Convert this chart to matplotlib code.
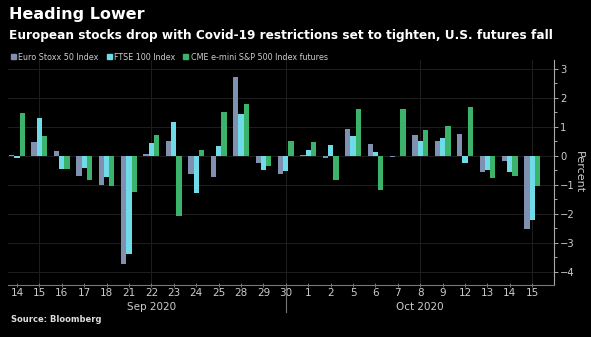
import matplotlib.pyplot as plt
from matplotlib.patches import Patch
from matplotlib.ticker import MultipleLocator

# trading days, Sep 14 - Oct 15 2020
days = ['14', '15', '16', '17', '18', '21', '22', '23', '24', '25', '28', '29', '30',
        '1', '2', '5', '6', '7', '8', '9', '12', '13', '14', '15']
euro_stoxx = [0.03, 0.47, 0.18, -0.68, -1.0, -3.74, 0.08, 0.52, -0.62, -0.71, 2.72, -0.25,
              -0.62, 0.02, -0.08, 0.93, 0.4, -0.03, 0.72, 0.53, 0.77, -0.57, -0.17, -2.52]
ftse_100 = [-0.08, 1.32, -0.45, -0.43, -0.71, -3.39, 0.44, 1.18, -1.29, 0.34, 1.44, -0.5,
            -0.53, 0.21, 0.38, 0.7, 0.13, 0.01, 0.53, 0.63, -0.25, -0.5, -0.56, -2.2]
cme_sp500 = [1.47, 0.69, -0.45, -0.84, -1.03, -1.23, 0.72, -2.07, 0.21, 1.5, 1.79, -0.34,
             0.53, 0.47, -0.84, 1.61, -1.16, 1.61, 0.9, 1.03, 1.7, -0.77, -0.68, -1.02]
series_names = ['Euro Stoxx 50 Index', 'FTSE 100 Index', 'CME e-mini S&P 500 Index futures']
months = ['Sep 2020', 'Oct 2020']
month_pos = [6, 18]
grid_days = [1, 6, 12, 18, 23]

colors = ['#8090b0', '#6fdbe8', '#3bb36a']
bg = 'black'

fig = plt.figure(figsize=(5.91, 3.37), dpi=100, facecolor=bg)
ax = fig.add_axes([8 / 591, 1 - 285 / 337, 546 / 591, 225 / 337], facecolor=bg)

x = list(range(len(days)))
w = 0.235
for k, vals in enumerate([euro_stoxx, ftse_100, cme_sp500]):
    ax.bar([i + (k - 1) * w for i in x], vals, width=w, color=colors[k], zorder=3)

ax.set_xlim(-0.4, 23.97)
ax.set_ylim(-4.45, 3.31)

# grid
for v in range(-4, 4):
    ax.axhline(v, color='#1e1e1e', lw=0.7, zorder=1)
for d in grid_days:
    ax.axvline(d, color='#1e1e1e', lw=0.7, zorder=1)

for s in ['top', 'left']:
    ax.spines[s].set_visible(False)
ax.spines['bottom'].set_color('#777777')
ax.spines['right'].set_color('#aaaaaa')
ax.spines['bottom'].set_linewidth(0.8)
ax.spines['right'].set_linewidth(0.8)

ax.yaxis.tick_right()
ax.yaxis.set_major_locator(MultipleLocator(1))
ax.yaxis.set_minor_locator(MultipleLocator(0.5))
ax.tick_params(axis='y', which='both', colors='#aaaaaa', labelcolor='#cccccc',
               labelsize=7.2, length=3, width=0.7, pad=1.5)
ax.tick_params(axis='y', which='minor', length=2)
ax.set_xticks(x)
ax.set_xticklabels(days)
ax.tick_params(axis='x', colors='#777777', labelcolor='#cccccc', labelsize=7.5,
               length=3, width=0.7, direction='inout', pad=1)

fig.text(579 / 591, 1 - 172 / 337, 'Percent', color='#cccccc', fontsize=8,
         rotation=270, ha='center', va='center')

# month labels and separator
tr = ax.get_xaxis_transform()
for m, p in zip(months, month_pos):
    ax.text(p, -0.098, m, transform=tr, ha='center', va='center', color='#cccccc', fontsize=7.5)
ax.plot([12, 12], [0, -0.12], transform=tr, color='#777777', lw=0.8, clip_on=False)

fig.text(9 / 591, 1 - 14 / 337, 'Heading Lower', color='white', fontsize=11.5,
         fontweight='bold', va='center')
fig.text(9 / 591, 1 - 35 / 337,
         'European stocks drop with Covid-19 restrictions set to tighten, U.S. futures fall',
         color='white', fontsize=8.7, fontweight='bold', va='center')
handles = [Patch(color=c, label=n) for c, n in zip(colors, series_names)]
leg = fig.legend(handles=handles, loc='center left', bbox_to_anchor=(4 / 591, 1 - 57 / 337),
                 ncol=3, frameon=False, fontsize=5.8, handlelength=0.6, handleheight=0.6,
                 handletextpad=0.3, columnspacing=1.0, labelcolor='#cccccc')
fig.text(11 / 591, 1 - 319 / 337, 'Source: Bloomberg', color='#dddddd', fontsize=6,
         fontweight='bold', va='center')

fig.savefig('out.png', dpi=100, facecolor=bg)
